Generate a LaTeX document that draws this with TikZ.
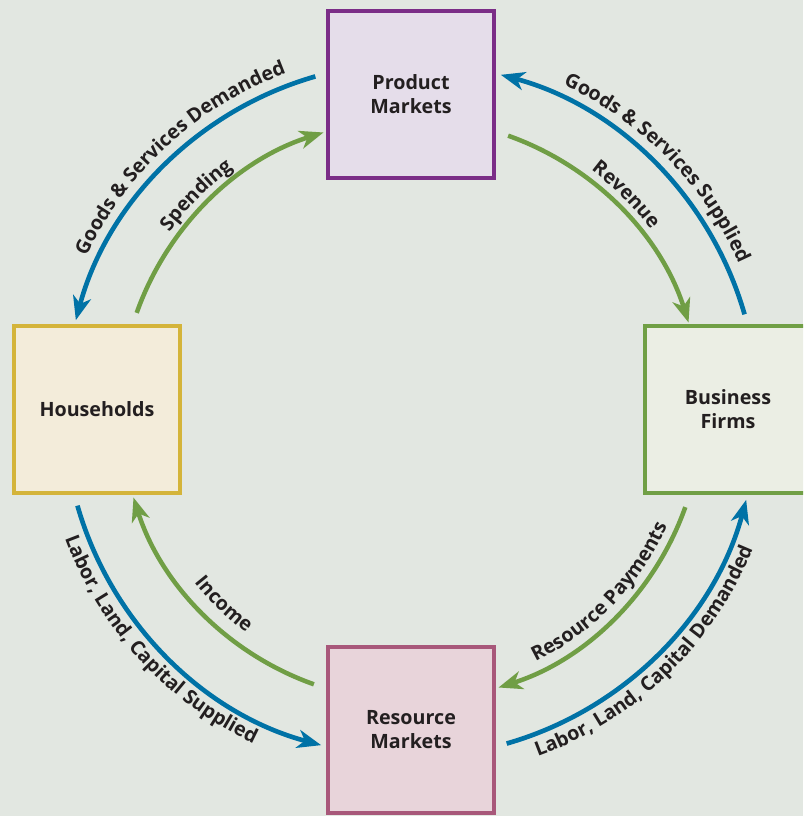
\documentclass[tikz,border=0pt]{standalone}
\usepackage{fontspec}
\setmainfont{Open Sans}
\definecolor{paper}{RGB}{226,231,225}
\definecolor{ink}{RGB}{35,31,32}
\definecolor{goodsblue}{RGB}{0,114,166}
\definecolor{moneygreen}{RGB}{112,158,69}
\definecolor{pmline}{RGB}{123,45,135}
\definecolor{pmfill}{RGB}{229,221,234}
\definecolor{hhline}{RGB}{212,180,58}
\definecolor{hhfill}{RGB}{243,236,218}
\definecolor{bfline}{RGB}{112,159,69}
\definecolor{bffill}{RGB}{235,238,228}
\definecolor{rmline}{RGB}{168,88,122}
\definecolor{rmfill}{RGB}{232,212,218}
\usetikzlibrary{arrows.meta,calc,decorations.text}
\newcommand{\lblfont}{\fontsize{14}{17}\selectfont\bfseries}
\tikzset{
  box/.style={draw, line width=2.85pt, minimum size=4.15cm, inner sep=0pt,
              align=center, text=ink},
  goods/.style={-{Stealth[length=17pt,width=13pt,inset=5pt]}, line width=3.3pt, goodsblue},
  money/.style={-{Stealth[length=17pt,width=13pt,inset=5pt]}, line width=3.2pt, moneygreen},
  arclabel/.style={decorate, decoration={text along path, text align=center,
              text color=ink, text={#1}}},
}

\begin{document}
\begin{tikzpicture}[x=0.025cm, y=0.025cm]
    \lblfont
    \clip (0,0) rectangle (803,816);
    \fill[paper] (0,0) rectangle (803,816);
    \coordinate (hub) at (411,406);
    % the four markets and sectors
    \node[box, draw=pmline, fill=pmfill] (product) at (411,721.5) {Product\\Markets};
    \node[box, draw=hhline, fill=hhfill] (house) at (97,406.5) {Households};
    \node[box, draw=bfline, fill=bffill] (firms) at (728,406.5) {Business\\Firms};
    \node[box, draw=rmline, fill=rmfill] (resource) at (411,86) {Resource\\Markets};
    % real flows outside, money flows inside
    \foreach \q in {0,90,180,270} {
      \draw[goods] ($(hub)+(\q+16:347)$) arc[start angle=\q+16, end angle=\q+75, radius=347];
      \draw[money] ($(hub)+(\q+70.5:291)$) arc[start angle=\q+70.5, end angle=\q+17.5, radius=291];
    }
    % labels along the arcs
    \path[arclabel={Goods {\&} Services Demanded}] ($(hub)+(175:359)$) arc[start angle=175, end angle=90, radius=359];
    \path[arclabel={Spending}] ($(hub)+(175:300)$) arc[start angle=175, end angle=95, radius=300];
    \path[arclabel={Goods {\&} Services Supplied}] ($(hub)+(85:359)$) arc[start angle=85, end angle=4, radius=359];
    \path[arclabel={Revenue}] ($(hub)+(85:300)$) arc[start angle=85, end angle=5, radius=300];
    \path[arclabel={Labor, Land, Capital Supplied}] ($(hub)+(182:369)$) arc[start angle=182, end angle=263, radius=369];
    \path[arclabel={Income}] ($(hub)+(186:277)$) arc[start angle=186, end angle=266, radius=277];
    \path[arclabel={Resource Payments}] ($(hub)+(276:281)$) arc[start angle=276, end angle=356, radius=281];
    \path[arclabel={Labor, Land, Capital Demanded}] ($(hub)+(274:369)$) arc[start angle=274, end angle=354, radius=369];
\end{tikzpicture}
\end{document}
